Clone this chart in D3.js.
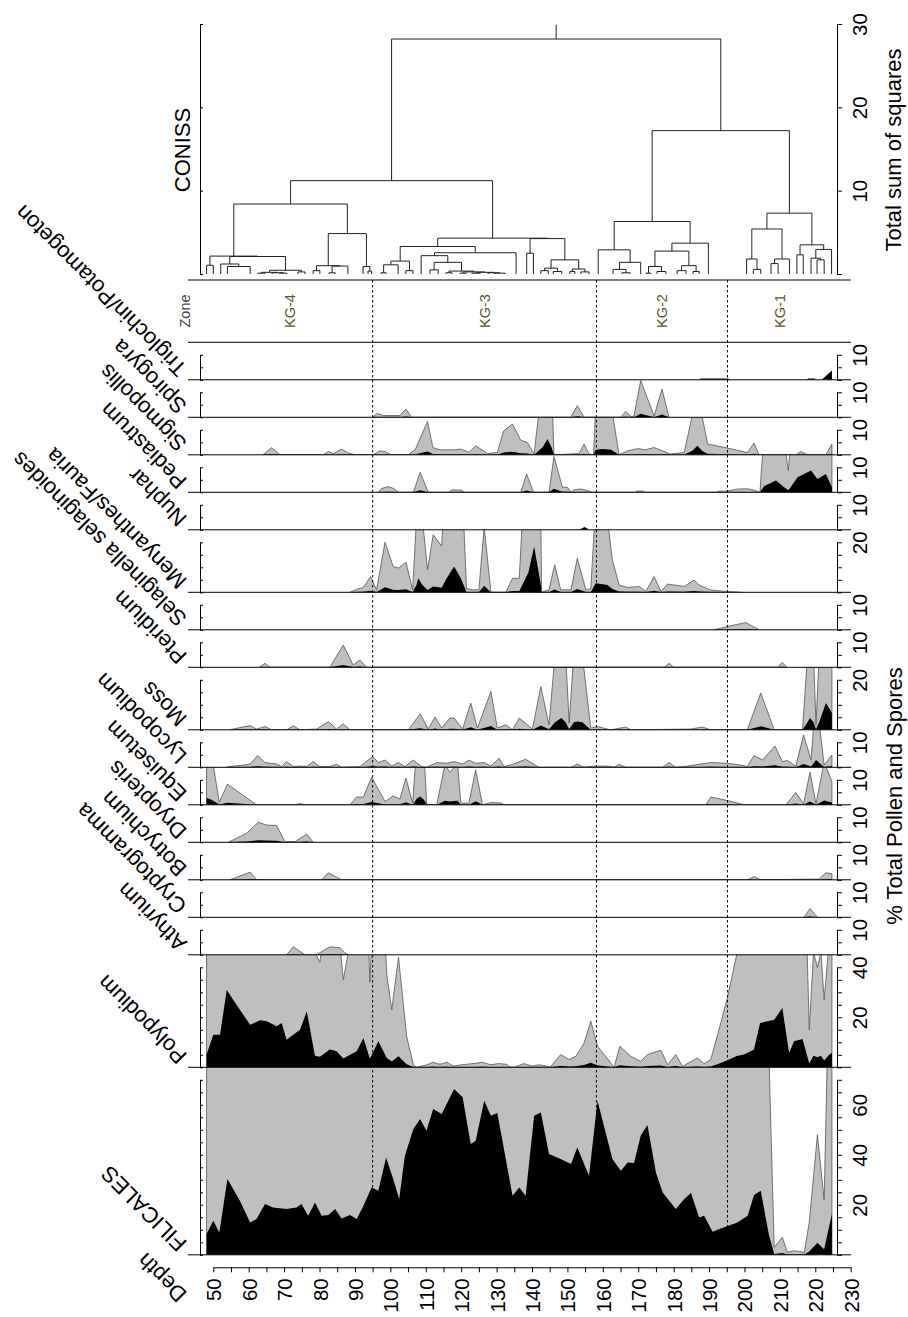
<!DOCTYPE html>
<html>
<head>
<meta charset="utf-8">
<script src="https://cdn.jsdelivr.net/npm/d3@7"></script>
<style>
  body { margin: 0; background: #fff; }
  svg text { font-family: "Liberation Sans", Arial, sans-serif; }
</style>
</head>
<body>
<script>
// ---- data ----
var depthDomain = [50, 230];
var depthTicks = d3.range(50, 231, 5);
var zoneBreaks = [95, 158.2, 195.2];
var zoneNames = ["KG-4", "KG-3", "KG-2", "KG-1"];
var sampleSpan = [48.1, 224.7];

var taxa = ["Triglochin/Potamogeton", "Spirogyra", "Sigmopollis", "Pediastrum", "Nuphar",
  "Menyanthes/Fauria", "Selaginella selaginoides", "Pteridium", "Moss", "Lycopodium",
  "Equisetum", "Dryopteris", "Botrychium", "Cryptogramma", "Athyrium", "Polypodium", "FILICALES"];
var panelMax = [15, 15, 15, 15, 15, 25, 15, 15, 25, 15, 15, 15, 15, 15, 15, 45, 75];
var axisTop = [10, 10, 10, 10, 10, 20, 10, 10, 20, 10, 10, 10, 10, 10, 10, 40, 70];
var axisLabels = [[10], [10], [10], [10], [10], [20], [10], [10], [20], [10], [10], [10], [10], [10], [10], [20, 40], [20, 40, 60]];
var exaggerated = [false, true, true, true, false, true, true, true, true, true, true, true, true, true, true, true, true];
var exagMult = 10;

// [depth, %]
var triglochin = [[187, 0], [187.7, 0.5], [195.4, 0.5], [196, 0], [217.5, 0], [218, 0.5], [219.7, 0.5], [220.3, 0], [221.8, 0], [224.7, 3.7]];
var spirogyra = [[95, 0], [96.3, 0.16], [98, 0.07], [102.7, 0.07], [104.4, 0.33], [106, 0], [151, 0], [152.8, 0.47], [154.7, 0],
  [165, 0], [166.5, 0.24], [168, 0.02], [168.8, 0.05], [170.7, 1.47], [174.5, 0.05], [176.7, 1.13], [178.7, 0]];
var sigmopollis = [[64, 0], [66.5, 0.29], [68.8, 0], [81, 0], [82.5, 0.13], [84, 0.05], [86.2, 0.23], [88, 0.08], [90, 0],
  [95.2, 0], [97, 0.16], [98.5, 0.13], [100.3, 0], [105, 0], [107, 0.2], [110.5, 1.33], [112, 0.29], [114, 0.2], [118, 0.2],
  [120, 0.23], [122.2, 0.09], [124.1, 0.36], [127.4, 0.05], [130.2, 0.09], [132, 0.96], [134.5, 1.23], [136.8, 0.59],
  [138.7, 0.49], [140.6, 0.03], [143, 3], [144.4, 6.3], [145.5, 3], [146.2, 0], [153.3, 0.05], [154.7, 0.43], [156.1, 0.03],
  [157.4, 0], [158, 2.0], [160, 2.3], [162.3, 2.0], [164.6, 0], [167, 0.16], [170, 0.25], [172, 0.2], [174.5, 0.29],
  [177, 0.15], [179, 0.03], [183, 0.09], [185.3, 1.6], [186.7, 3.6], [188.1, 1.5], [189.6, 0.43], [195.2, 0.27],
  [200.8, 0.09], [202.7, 0.47], [204.1, 0], [214.5, 0], [216, 0.13], [217.8, 0], [223, 0], [224.7, 0.43]];
var pediastrum = [[96.6, 0], [97.5, 0.15], [99.4, 0.23], [101, 0.15], [102.2, 0], [106.5, 0], [108.4, 0.8], [110.7, 0],
  [116.5, 0], [117.5, 0.1], [118.5, 0.09], [120, 0.09], [121, 0], [136.8, 0], [138.5, 0.73], [140.4, 0], [144.8, 0],
  [146.2, 1.43], [148.6, 0.2], [150, 0.2], [151, 0], [151.9, 0.1], [154, 0.13], [156.1, 0.05], [157, 0], [169.3, 0],
  [169.6, 0.05], [171.5, 0.05], [171.8, 0], [192, 0], [192.4, 0.04], [195.2, 0.05], [198, 0.13], [200.8, 0.14],
  [202.3, 0.1], [204.4, 0], [204.6, 0.5], [205.6, 2.5], [208.9, 4.7], [211.2, 2], [212.4, 0.87], [213.5, 3], [215, 6],
  [218.8, 8.7], [220.6, 5.3], [223, 7.3], [224.7, 2]];
var nuphar = [[153.3, 0], [154.8, 1.1], [156.3, 0]];
var menyanthes = [[88.6, 0], [90.5, 0.12], [92.4, 0.19], [94.4, 0.63], [96.1, 0.1], [98.5, 2.0], [100.8, 1.03], [102.3, 0.97],
  [104.4, 1.2], [106.3, 0.1], [107.4, 3.0], [107.9, 5.6], [109, 3.0], [110.5, 0.9], [112.1, 2.3], [114.5, 1.85], [115.9, 5.6],
  [118, 10.3], [119.9, 5.6], [121.5, 0.15], [123.2, 0.1], [125, 0.1], [126.5, 2.6], [128.4, 0], [132.6, 0], [134.5, 0.56],
  [136.4, 0.56], [137.3, 3.0], [139, 8], [140.6, 18.3], [142.5, 3], [142.7, 0], [144.8, 0.1], [146.4, 1.1], [148.1, 0.1],
  [151, 0.1], [152.8, 1.36], [155.2, 0.1], [156.6, 0.15], [158, 3.6], [160, 3.2], [161.3, 2.9], [162.7, 1.3], [164.6, 0.29],
  [167, 0.2], [170.3, 0.23], [172.1, 0.03], [174.5, 0.63], [176.4, 0.03], [178.3, 0.33], [183, 0.23], [185.8, 0.49],
  [187.2, 0.29], [190.5, 0.09], [195.2, 0.03], [199, 0]];
var selaginella = [[191.4, 0], [195.2, 0.13], [200.4, 0.29], [204.1, 0]];
var pteridium = [[63, 0], [64.6, 0.16], [66, 0], [82.9, 0], [86.7, 0.89], [89.5, 0.09], [91.4, 0.29], [93.3, 0],
  [177.3, 0], [178.7, 0.16], [180, 0], [209.3, 0], [210.7, 0.19], [212, 0]];
var moss = [[54.7, 0], [57.5, 0.09], [60.4, 0.17], [62.2, 0.03], [64.6, 0.13], [66.5, 0], [70.7, 0], [72.6, 0.16], [74.5, 0],
  [79.2, 0.03], [82.5, 0.33], [84.8, 0.03], [86.7, 0.24], [88.6, 0], [105.1, 0], [108.4, 0.64], [110.7, 0.03], [112.6, 0.51],
  [114.5, 0.07], [116.8, 0.47], [118, 0.47], [120.4, 0.03], [122.7, 1.07], [124.6, 0.07], [128.4, 1.53], [130.2, 0.07],
  [132.6, 0.2], [134.5, 0], [136.4, 0.47], [140.1, 0.03], [142.5, 1.73], [144.8, 0.2], [146.5, 3], [148.3, 4.7], [149.5, 3],
  [150.5, 0.27], [151.8, 3], [152.8, 3.3], [154.2, 3], [156.6, 0.07], [158.5, 0.13], [162.2, 0], [166.5, 0.11], [167.9, 0],
  [184.8, 0.03], [188.1, 0.11], [190.5, 0], [200.8, 0], [204.6, 1.47], [208.4, 0], [216.4, 0], [217.8, 3], [218.5, 4.7],
  [219.5, 3], [220.2, 0.2], [221.1, 3], [223, 10.7], [224.7, 6.7]];
var lycopodium = [[53.7, 0], [54.7, 0.03], [58.5, 0.09], [60.4, 0.13], [62.5, 0.47], [64.6, 0.19], [67.9, 0.13], [69.3, 0.03],
  [70.7, 0.23], [72.6, 0.03], [74.5, 0.05], [76.4, 0.03], [78.2, 0.23], [80.1, 0.03], [82.9, 0.03], [84.8, 0.12], [86.2, 0],
  [91.4, 0.03], [95, 0.43], [96.6, 0.19], [98.5, 0.29], [100.4, 0.05], [102.3, 0.19], [104.1, 0.03], [106.5, 0.29],
  [108.8, 0.03], [110.2, 0], [113.1, 0.19], [115.9, 0.16], [118, 0.23], [120.4, 0.13], [122.2, 0.29], [124.1, 0.16],
  [126.5, 0.19], [128.4, 0.05], [130.7, 0.36], [132.1, 0.03], [134, 0.09], [138.2, 0.32], [142, 0], [151, 0], [152.8, 0.13],
  [154.7, 0], [157.5, 0.05], [161.3, 0.05], [163.2, 0], [164.6, 0.12], [166.5, 0], [176.8, 0], [178.7, 0.19], [180.6, 0],
  [183.9, 0.05], [190.5, 0.19], [195.2, 0.16], [199, 0.09], [200.8, 0.03], [202.7, 0.47], [205.1, 0.29], [208.6, 0.85],
  [210.7, 0.23], [212.1, 0.27], [214.5, 0.05], [216.7, 1.29], [218.8, 0.29], [220.2, 2.9], [222.5, 0.09], [224.7, 0.49]];
var equisetum = [[48.1, 2.7], [49.5, 2.0], [51.7, 0.1], [54, 0.83], [62.2, 0], [73, 0], [74.5, 0.05], [75.9, 0], [88.6, 0],
  [90.5, 0.31], [92.4, 0.31], [94.7, 1.11], [98.5, 0.13], [100.8, 0.36], [102.7, 0.23], [104.4, 1.07], [106.3, 0.07],
  [107.5, 2.5], [108.4, 3.3], [109.5, 2.0], [110.3, 0], [113.1, 0], [115.4, 1.6], [116.8, 1.3], [118, 1.5], [119, 1.6],
  [119.9, 0.07], [122.2, 0.07], [124.1, 1.4], [126, 0], [128.4, 0.09], [131.2, 0.07], [132.1, 0], [189.1, 0], [190.5, 0.31],
  [195.2, 0.17], [199.9, 0], [211.7, 0], [214.5, 0.49], [216.7, 0.04], [218.5, 1.3], [220.2, 0.04], [222.5, 1.7], [224.7, 0.93]];
var dryopteris = [[54.2, 0], [59.4, 0.36], [62.7, 0.8], [65.1, 0.69], [67.9, 0.67], [70.2, 0.03], [73.1, 0.03], [76.4, 0.33], [78.2, 0]];
var botrychium = [[54.7, 0], [60.4, 0.31], [62.2, 0], [80.6, 0], [82.5, 0.28], [86.2, 0], [200.8, 0], [202.7, 0.13],
  [204.6, 0], [221.1, 0.03], [223, 0.28], [224.7, 0.24]];
var cryptogramma = [[216.8, 0], [218.5, 0.35], [220.6, 0]];
var athyrium = [[70.7, 0], [72.6, 0.32], [75.9, 0], [79.2, 0], [81.5, 0.21], [82.9, 0.32], [85.8, 0.28], [87.2, 0.08], [88.1, 0]];
var polypodium = [[48.1, 5], [50, 13], [51.9, 13], [53.8, 31], [55.6, 27], [60.4, 17], [63.2, 18.8], [65.1, 18.4],
  [67.9, 16.4], [69.3, 17.7], [70.7, 11], [74.5, 15], [76.4, 22.4], [78.7, 4.6], [80.1, 4.2], [82.9, 7.1], [84.8, 6.4],
  [86.7, 3.5], [90.5, 6.4], [92.4, 11.7], [94.2, 3.4], [96.6, 10.4], [99, 3.7], [100.4, 2.3], [102.3, 4.4], [104.6, 1.24],
  [106.5, 0.1], [107.4, 0], [110.3, 0.1], [112, 0.2], [114, 0.12], [116, 0.2], [117.8, 0.05], [120, 0.1], [123.5, 0.15],
  [126, 0.2], [128.4, 0.1], [130.5, 0.15], [132.9, 0.12], [133.5, 0.02], [135, 0], [137.8, 0.15], [140, 0.05], [142, 0.1],
  [144.2, 0.05], [145.1, 0], [148.1, 0.51], [150.5, 0.31], [152.4, 0.44], [154.7, 0.97], [156.6, 1.84], [158.5, 0.84],
  [162.3, 0.17], [163.2, 0], [164.8, 0.84], [167.9, 0.44], [170.7, 0.24], [172.6, 0.51], [176.4, 0.68], [178.3, 0.1],
  [180.6, 0.51], [182.5, 0.04], [186.7, 0.37], [188.6, 0.15], [190.5, 0.31], [193.3, 1.77], [195.2, 2.8], [197.8, 4.5],
  [199.9, 5.1], [202.7, 7.1], [204.4, 17.7], [208.4, 19], [210.7, 23.7], [212.6, 5.7], [214, 10.4], [216.4, 11.3],
  [218.3, 1.5], [219.5, 4.6], [220.6, 4.0], [221.6, 4.6], [222.5, 2.7], [223.9, 5], [224.7, 5.7]];
var filicales = [[48.1, 8.3], [50, 13.6], [51.7, 8.9], [54, 30.3], [57.5, 21.6], [60.4, 12.9], [62.2, 14.3], [64.6, 20.3],
  [66.9, 18.9], [70.7, 18.3], [73.5, 18.9], [74.9, 20.3], [76.8, 15.6], [78.7, 20.9], [80.6, 15.6], [82.5, 15.9],
  [84.4, 18.3], [86.2, 14.5], [88.6, 15.9], [90.5, 14.3], [92.4, 19.6], [94.7, 26.9], [96.6, 25.6], [98.8, 38.9],
  [100.8, 30.3], [102.5, 22.3], [104.1, 39.6], [106.5, 50.3], [108.4, 54.3], [110.2, 49.6], [112.1, 58.3], [114.5, 56.3],
  [118, 66.3], [120.4, 63], [122.7, 44.3], [124.1, 45.6], [126.5, 61.6], [128.4, 55.6], [130.2, 56.7], [134.5, 23.6],
  [136.4, 26.9], [138.2, 23.6], [140.6, 55.6], [142.5, 56.9], [144.8, 40.3], [148.1, 38.3], [151, 36.3], [152.8, 42.9],
  [156.1, 31.6], [158.5, 61.6], [162.7, 38.3], [165.1, 33.6], [167, 36.9], [168.8, 36.7], [170.7, 47.6], [172.6, 51.9],
  [175, 32.9], [176.9, 24.9], [180.6, 18.3], [183, 22.3], [184.9, 24.7], [187.2, 14.9], [188.6, 15.6], [191, 9.2],
  [193.3, 10.5], [198, 12.9], [200.9, 15.6], [202.7, 23.9], [204.6, 25.6], [206.9, 8], [208.4, 0.3], [210.7, 0.7],
  [212.1, 0.1], [214, 0.16], [216.9, 0.1], [218.3, 1.3], [220.6, 4.8], [222.5, 2.2], [223.4, 8], [224.7, 16.3]];

var series = [triglochin, spirogyra, sigmopollis, pediastrum, nuphar, menyanthes, selaginella, pteridium, moss,
  lycopodium, equisetum, dryopteris, botrychium, cryptogramma, athyrium, polypodium, filicales];

// CONISS tree: [height, left, right], leaves are sample depths
var coniss = [28.2,
  [11.2,
    [8.4,
      [2.15, [1.05, 48.1, 50.0],
        [2.1, [1.2, 52.1, [0.9, 54.0, 60.4]],
          [0.45, [0.2, [0.1, 62.6, 64.6], [0.15, 66.6, [0.1, 68.8, 70.8]]], [0.25, 73.9, 75.9]]]],
      [4.85, [1.0, [0.4, 78.2, 80.1], [0.95, [0.15, 82.7, 84.4], 88.0]],
        [0.9, 92.3, [0.35, 93.7, 94.7]]]],
    [4.3,
      [3.3,
        [1.55, [1.1, [0.15, 97.4, 98.8], 102.2], [0.4, 104.4, 106.4]],
        [2.55, [2.2, 108.7, [1.4, [0.5, 111.2, 113.5], [0.35, [0.15, 115.7, 117.4],
          [0.25, [0.1, 119.7, 121.4], [0.2, [0.1, 123.1, 125.3], [0.15, 127.6, [0.1, 129.3, 132.4]]]]]]], 135.5]],
      [4.25, [2.5, 138.5, 140.4],
        [1.7, [0.7, [0.4, 142.5, 144.6], [0.3, 146.0, 148.4]],
          [0.6, [0.3, 150.7, 152.1], [0.25, 153.8, 156.1]]]]]],
  [17.2,
    [6.3,
      [2.9, 158.7, [1.4, [0.55, 162.9, [0.15, 165.4, 167.7]], 170.7]],
      [3.7, [2.75, [0.9, [0.1, 172.2, 173.6], [0.3, 175.3, 177.8]], [1.0, [0.4, 181.0, 183.5], [0.3, 185.5, 187.2]]], 189.8]],
    [7.3,
      [5.4, [1.8, 200.6, [0.55, 202.5, 204.6]], [1.8, [1.25, 207.5, 209.5], 212.7]],
      [3.5, [2.3, 214.8, 216.6], [2.95, [1.9, 218.8, [1.7, 220.5, 222.5]], 224.6]]]]];
var conissTicks = [0, 10, 20, 30];

// ---- layout ----
var svgWidth = 908, svgHeight = 1317;
var lineX0 = 188, lineX1 = 851;
var leftAxisX = 200, rightAxisX = 837;
var stripTop = 280, firstPanelTop = 342.3;
var pxPerPct = 2.5;
var depthAxisY = 1267.3;
var grey = "#bfbfbf";

var svg = d3.select("body").append("svg")
  .attr("width", svgWidth).attr("height", svgHeight);

var x = d3.scaleLinear().domain(depthDomain).range([213.3, 850.7]);
var yD = d3.scaleLinear().domain([0, 30]).range([274, 24]);

function styleRightAxis(g, labelSize) {
  g.attr("font-family", null).attr("font-size", null);
  g.selectAll("path, line").attr("stroke", "#000");
  g.selectAll("text")
    .attr("x", 0).attr("dy", null)
    .attr("transform", "translate(30,0) rotate(-90)")
    .attr("text-anchor", "middle")
    .attr("fill", "#000")
    .style("font-size", labelSize);
}

// ---- dendrogram ----
var segs = [];
function place(node) {
  if (typeof node === "number") return { x: x(node), h: 0 };
  var l = place(node[1]), r = place(node[2]);
  segs.push([[l.x, yD(l.h)], [l.x, yD(node[0])], [r.x, yD(node[0])], [r.x, yD(r.h)]]);
  return { x: (l.x + r.x) / 2, h: node[0] };
}
var root = place(coniss);
segs.push([[root.x, yD(root.h)], [root.x, yD(29.9)]]);

svg.append("g").selectAll("path").data(segs).join("path")
  .attr("d", d3.line())
  .attr("fill", "none").attr("stroke", "#222").attr("stroke-width", 1);

svg.append("g").attr("transform", `translate(${leftAxisX},0)`)
  .call(d3.axisRight(yD).tickValues(conissTicks).tickSize(3).tickSizeOuter(0).tickFormat(""))
  .call(g => g.selectAll("path, line").attr("stroke", "#000"));
svg.append("g").attr("transform", `translate(${rightAxisX},0)`)
  .call(d3.axisRight(yD).tickValues(conissTicks).tickSize(5).tickSizeOuter(0)
    .tickFormat(d => d === 0 ? "" : d))
  .call(g => styleRightAxis(g, "20.5px"));

svg.append("text").attr("transform", "translate(190,150) rotate(-90)")
  .attr("text-anchor", "middle").style("font-size", "22px").text("CONISS");
svg.append("text").attr("transform", "translate(901,150) rotate(-90)")
  .attr("text-anchor", "middle").style("font-size", "22px").text("Total sum of squares");

// ---- panels ----
var tops = [];
var acc = firstPanelTop;
panelMax.forEach(m => { tops.push(acc); acc += m * pxPerPct; });

var defs = svg.append("defs");
var panelsG = svg.append("g");

taxa.forEach(function(name, i) {
  var top = tops[i], bottom = top + panelMax[i] * pxPerPct;
  var y = d3.scaleLinear().domain([0, panelMax[i]]).range([bottom, top]);
  var yEx = y.copy().domain([0, panelMax[i] / exagMult]);

  defs.append("clipPath").attr("id", "clip" + i)
    .append("rect").attr("x", lineX0).attr("y", top)
    .attr("width", lineX1 - lineX0).attr("height", bottom - top);

  var g = panelsG.append("g").attr("clip-path", `url(#clip${i})`);
  if (exaggerated[i]) {
    g.append("path").datum(series[i])
      .attr("d", d3.area().x(d => x(d[0])).y0(bottom).y1(d => yEx(d[1])))
      .attr("fill", grey).attr("stroke", "#555").attr("stroke-width", 0.8);
  }
  g.append("path").datum(series[i])
    .attr("d", d3.area().x(d => x(d[0])).y0(bottom).y1(d => y(d[1])))
    .attr("fill", "#000");

  // value axes
  var ya = y.copy().domain([0, axisTop[i]]).range([y(0), y(axisTop[i])]);
  var tv = d3.range(0, axisTop[i] + 0.1, 5);
  svg.append("g").attr("transform", `translate(${leftAxisX},0)`)
    .call(d3.axisRight(ya).tickValues(tv).tickSize(3).tickSizeOuter(0).tickFormat(""))
    .call(gg => gg.selectAll("path, line").attr("stroke", "#000"));
  svg.append("g").attr("transform", `translate(${rightAxisX},0)`)
    .call(d3.axisRight(ya).tickValues(tv).tickSize(5).tickSizeOuter(0)
      .tickFormat(d => axisLabels[i].includes(d) ? d : ""))
    .call(gg => styleRightAxis(gg, "20.5px"));

  // taxon label
  svg.append("text")
    .attr("transform", `translate(188,${bottom - 12.5}) rotate(-135)`)
    .attr("text-anchor", "start").style("font-size", "22px").text(name);
});

// horizontal rules
var rules = [stripTop, firstPanelTop].concat(tops.map((t, i) => t + panelMax[i] * pxPerPct));
svg.append("g").selectAll("line").data(rules).join("line")
  .attr("x1", lineX0).attr("x2", lineX1)
  .attr("y1", d => d).attr("y2", d => d)
  .attr("stroke", "#000").attr("stroke-width", 1);

var lastBottom = rules[rules.length - 1];

// zone lines & labels
svg.append("g").selectAll("line").data(zoneBreaks).join("line")
  .attr("x1", d => x(d)).attr("x2", d => x(d))
  .attr("y1", stripTop).attr("y2", lastBottom)
  .attr("stroke", "#000").attr("stroke-width", 1).attr("stroke-dasharray", "2.5,2.5");

var edges = [sampleSpan[0]].concat(zoneBreaks, [sampleSpan[1]]);
svg.append("g").selectAll("text").data(zoneNames).join("text")
  .attr("transform", (d, i) => `translate(${x((edges[i] + edges[i + 1]) / 2) + 5},311) rotate(-90)`)
  .attr("text-anchor", "middle").attr("fill", "#5e5428").style("font-size", "14.5px").text(d => d);
svg.append("text").attr("transform", "translate(190,311) rotate(-90)")
  .attr("text-anchor", "middle").attr("fill", "#444").style("font-size", "14.5px").text("Zone");

svg.append("text").attr("transform", "translate(901.5,796) rotate(-90)")
  .attr("text-anchor", "middle").style("font-size", "22px").text("% Total Pollen and Spores");

// depth axis
svg.append("g").attr("transform", `translate(0,${depthAxisY})`)
  .call(d3.axisBottom(x).tickValues(depthTicks).tickSize(5).tickSizeOuter(0)
    .tickFormat(d => d % 10 === 0 ? d : ""))
  .call(function(g) {
    g.attr("font-family", null).attr("font-size", null);
    g.selectAll("path, line").attr("stroke", "#000");
    g.selectAll("text")
      .attr("y", 0).attr("dy", null)
      .attr("transform", "translate(7.5,11) rotate(-90)")
      .attr("text-anchor", "end").attr("fill", "#000")
      .style("font-size", "20.5px");
  });

svg.append("text").attr("transform", "translate(188,1293) rotate(-135)")
  .attr("text-anchor", "start").style("font-size", "22px").text("Depth");
</script>
</body>
</html>
